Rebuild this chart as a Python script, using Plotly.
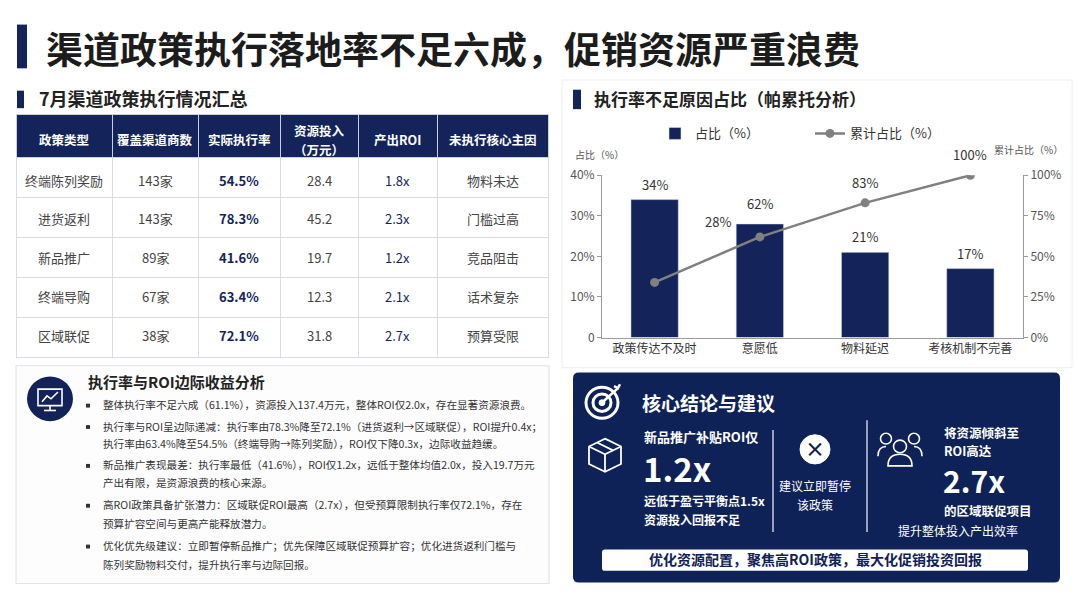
import plotly.graph_objects as go

W, H = 1080, 608
FONT = "Noto Sans CJK SC"
NAVY = "#14245a"

# ---- table data ----
policy_types = ["终端陈列奖励", "进货返利", "新品推广", "终端导购", "区域联促"]
dealers = [143, 143, 89, 67, 38]
exec_rate = [54.5, 78.3, 41.6, 63.4, 72.1]
invest = [28.4, 45.2, 19.7, 12.3, 31.8]
roi = [1.8, 2.3, 1.2, 2.1, 2.7]
causes = ["物料未达", "门槛过高", "竞品阻击", "话术复杂", "预算受限"]
table_head = ["政策类型", "覆盖渠道商数", "实际执行率", "资源投入<br>（万元）", "产出ROI", "未执行核心主因"]
col_w = [96, 86, 82, 78, 79, 111]

# ---- pareto data ----
reasons = ["政策传达不及时", "意愿低", "物料延迟", "考核机制不完善"]
share = [34, 28, 21, 17]
cumulative = [34, 62, 83, 100]
left_ticks = [0, 10, 20, 30, 40]
left_ticktext = ["0", "10%", "20%", "30%", "40%"]
right_ticks = [0, 25, 50, 75, 100]
right_ticktext = ["0%", "25%", "50%", "75%", "100%"]

bullets = [
    ["整体执行率不足六成（61.1%），资源投入137.4万元，整体ROI仅2.0x，存在显著资源浪费。"],
    ["执行率与ROI呈边际递减：执行率由78.3%降至72.1%（进货返利→区域联促），ROI提升0.4x；",
     "执行率由63.4%降至54.5%（终端导购→陈列奖励），ROI仅下降0.3x，边际收益趋缓。"],
    ["新品推广表现最差：执行率最低（41.6%），ROI仅1.2x，远低于整体均值2.0x，投入19.7万元",
     "产出有限，是资源浪费的核心来源。"],
    ["高ROI政策具备扩张潜力：区域联促ROI最高（2.7x），但受预算限制执行率仅72.1%，存在",
     "预算扩容空间与更高产能释放潜力。"],
    ["优化优先级建议：立即暂停新品推广；优先保障区域联促预算扩容；优化进货返利门槛与",
     "陈列奖励物料交付，提升执行率与边际回报。"],
]


def X(px):
    return px / W


def Y(py):
    return 1 - py / H


def rrect(x0, y0, x1, y1, r):
    # rounded rectangle path in paper coords (input in pixels)
    p = [
        f"M{X(x0 + r)},{Y(y0)}", f"L{X(x1 - r)},{Y(y0)}", f"Q{X(x1)},{Y(y0)} {X(x1)},{Y(y0 + r)}",
        f"L{X(x1)},{Y(y1 - r)}", f"Q{X(x1)},{Y(y1)} {X(x1 - r)},{Y(y1)}",
        f"L{X(x0 + r)},{Y(y1)}", f"Q{X(x0)},{Y(y1)} {X(x0)},{Y(y1 - r)}",
        f"L{X(x0)},{Y(y0 + r)}", f"Q{X(x0)},{Y(y0)} {X(x0 + r)},{Y(y0)}", "Z",
    ]
    return " ".join(p)


def poly(pts, close=False):
    s = "M" + " L".join(f"{X(a)},{Y(b)}" for a, b in pts)
    return s + (" Z" if close else "")


shapes = []
annos = []


def rect(x0, y0, x1, y1, fill, line=None, lw=0):
    shapes.append(dict(type="rect", xref="paper", yref="paper", x0=X(x0), x1=X(x1), y0=Y(y1), y1=Y(y0),
                       fillcolor=fill, line=dict(color=line or fill, width=lw), layer="below"))


def circle(cx, cy, r, fill=None, line=None, lw=0, layer="above"):
    shapes.append(dict(type="circle", xref="paper", yref="paper", x0=X(cx - r), x1=X(cx + r),
                       y0=Y(cy + r), y1=Y(cy - r), fillcolor=fill or "rgba(0,0,0,0)",
                       line=dict(color=line or "rgba(0,0,0,0)", width=lw), layer=layer))


def path(d, color="white", lw=2, fill=None, layer="above"):
    shapes.append(dict(type="path", xref="paper", yref="paper", path=d,
                       line=dict(color=color, width=lw), fillcolor=fill or "rgba(0,0,0,0)", layer=layer))


def text(x, y, s, size=12, color="#333", bold=False, anchor="left"):
    annos.append(dict(x=X(x), y=Y(y), xref="paper", yref="paper", text=f"<b>{s}</b>" if bold else s,
                      showarrow=False, xanchor=anchor, yanchor="middle",
                      font=dict(family=FONT, size=size, color=color)))


fig = go.Figure()

# ---- header ----
rect(17, 15, 27, 60, NAVY)
text(44, 39, "渠道政策执行落地率不足六成，促销资源严重浪费", 37, "#1c1c1c", True)
rect(17, 83, 24, 101, NAVY)
text(37, 91, "7月渠道政策执行情况汇总", 18, "#222", True)
rect(573, 82, 581, 102, NAVY)
text(592, 91, "执行率不足原因占比（帕累托分析）", 17, "#222", True)

# ---- table (grid drawn by go.Table, labels centred on top of it) ----
tx0, tx1 = 16, 548
head_top, head_h, row_h = 115, 43, 40
body = [policy_types, [f"{d}家" for d in dealers], [f"{r}%" for r in exec_rate],
        invest, [f"{r}x" for r in roi], causes]
body_color = ["#444", "#444", NAVY, "#444", NAVY, "#444"]
body_bold = [False, False, True, False, False, False]

fig.add_trace(go.Table(
    domain=dict(x=[X(tx0), X(tx1)], y=[Y(362), Y(head_top - 7)]),
    columnwidth=col_w,
    header=dict(values=[""] * len(table_head), fill_color=NAVY, height=head_h,
                line=dict(color="#c9cfdb", width=1)),
    cells=dict(values=[[""] * len(policy_types)] * len(col_w), fill_color="white", height=row_h,
               line=dict(color="#d9dce3", width=1)),
))
scale = (tx1 - tx0) / sum(col_w)
left = tx0
for j, (h, w) in enumerate(zip(table_head, col_w)):
    cx = left + w * scale / 2
    left += w * scale
    parts = h.split("<br>")
    for k, part in enumerate(parts):
        cy = head_top + head_h / 2 - 3 + (k - (len(parts) - 1) / 2) * 19
        text(cx, cy, part, 12.5, "white", True, anchor="center")
    for i, v in enumerate(body[j]):
        cy = head_top + head_h + row_h * i + row_h / 2 - 3
        text(cx, cy, str(v), 13, body_color[j], body_bold[j], anchor="center")

# ---- pareto chart ----
fig.add_trace(go.Bar(x=reasons, y=share, name="占比（%）", marker_color=NAVY, width=0.45, yaxis="y"))
fig.add_trace(go.Scatter(x=reasons, y=cumulative, name="累计占比（%）", yaxis="y2", mode="lines+markers",
                         line=dict(color="#808080", width=2.5), marker=dict(size=9, color="#808080")))

for i, v in enumerate(share):
    annos.append(dict(x=reasons[i], y=v, xref="x", yref="y", text=f"{v}%", showarrow=False,
                      yanchor="bottom", yshift=-9 if i == 1 else 4, xshift=-42 if i == 1 else 0,
                      font=dict(family=FONT, size=13, color="#333")))
for i, v in enumerate(cumulative):
    if i == 0:
        continue
    annos.append(dict(x=reasons[i], y=v, xref="x", yref="y2", text=f"{v}%", showarrow=False,
                      yanchor="bottom", yshift=22 if i == 1 else 9,
                      font=dict(family=FONT, size=13, color="#333")))

text(573, 149, "占比（%）", 10, "#555")
text(1065, 143, "累计占比（%）", 10, "#555", anchor="right")
shapes.append(dict(type="rect", xref="paper", yref="paper", x0=X(562), x1=X(1072), y0=Y(368), y1=Y(72),
                   line=dict(color="#eceef2", width=1), fillcolor="rgba(0,0,0,0)", layer="below"))

# ---- bottom-left analysis panel ----
shapes.append(dict(type="rect", xref="paper", yref="paper", x0=X(16), x1=X(549), y0=Y(590), y1=Y(366),
                   line=dict(color="#e1e4ea", width=1.2), fillcolor="#fdfdfe", layer="below"))
circle(50, 400, 23, fill="#13235a")
path(poly([(38, 390), (62, 390), (62, 407), (38, 407)], True), lw=1.6)
path(poly([(50, 407), (50, 412)]), lw=1.6)
path(poly([(44, 412), (56, 412)]), lw=1.6)
path(poly([(42, 403), (47, 397), (51, 400), (58, 393)]), lw=1.6)
text(86, 382, "执行率与ROI边际收益分析", 15, "#222", True)
ys = [[407], [429, 447], [469, 487], [510, 529], [552, 571]]
for lines, yy in zip(bullets, ys):
    rect(86, yy[0] - 2, 90, yy[0] + 2, "#333")
    for s, y in zip(lines, yy):
        text(101, y - 1, s, 10.6, "#333")

# ---- bottom-right conclusion panel ----
path(rrect(573, 373, 1060, 589, 6), color="#0f2257", lw=0, fill="#0f2257", layer="below")
# target icon
circle(602, 404, 16, line="white", lw=3)
circle(602, 404, 9, line="white", lw=3)
circle(602, 404, 3, fill="white", line="white", lw=1)
path(poly([(603, 403), (618, 389)]), lw=2.5)
path(poly([(614, 387), (618, 389), (620, 385)]), lw=2.5)
text(640, 404, "核心结论与建议", 19, "white", True)
# box icon
path(poly([(605, 441), (621, 449), (621, 467), (605, 475), (589, 467), (589, 449)], True), lw=1.8)
path(poly([(589, 449), (605, 457), (621, 449)]), lw=1.8)
path(poly([(605, 457), (605, 475)]), lw=1.8)
path(poly([(597, 445), (613, 453)]), lw=1.8)
text(642, 439, "新品推广补贴ROI仅", 13, "white", True)
text(641, 471, f"{roi[2]}x", 33, "white", True)
text(642, 505, "远低于盈亏平衡点1.5x", 12, "white", True)
text(642, 524, "资源投入回报不足", 12, "white", True)
# dividers
path(poly([(773, 432), (773, 537)]), color="#c8cde0", lw=1.5)
path(poly([(867, 422), (867, 537)]), color="#c8cde0", lw=1.5)
# pause icon
circle(815, 452, 15, fill="white", line="white", lw=1)
text(815, 451, "×", 20, "#0f2257", True, anchor="center")
text(815, 489, "建议立即暂停", 12, "white", anchor="center")
text(815, 509, "该政策", 12, "white", anchor="center")
# people icon
circle(886, 441, 5.5, line="white", lw=1.6)
circle(914, 441, 5.5, line="white", lw=1.6)
path(f"M{X(878)},{Y(459)} Q{X(878)},{Y(449)} {X(886)},{Y(449)}", lw=1.6)
path(f"M{X(922)},{Y(459)} Q{X(922)},{Y(449)} {X(914)},{Y(449)}", lw=1.6)
circle(900, 449, 6.5, fill="#0f2257", line="white", lw=1.6)
path(f"M{X(888)},{Y(469)} Q{X(888)},{Y(457)} {X(900)},{Y(457)} Q{X(912)},{Y(457)} {X(912)},{Y(469)} Z",
     lw=1.6, fill="#0f2257")
text(942, 435, "将资源倾斜至", 12.5, "white", True)
text(942, 453, "ROI高达", 12.5, "white", True)
text(941, 484, f"{roi[4]}x", 30, "white", True)
text(942, 515, "的区域联促项目", 12.5, "white", True)
text(958, 535, "提升整体投入产出效率", 12, "white", anchor="center")
path(rrect(602, 555, 1028, 577, 3), color="white", lw=0, fill="white")
text(815, 565, "优化资源配置，聚焦高ROI政策，最大化促销投资回报", 14, "#0f2257", True, anchor="center")

fig.update_layout(
    width=W, height=H, margin=dict(l=0, r=0, t=0, b=0),
    paper_bgcolor="white", plot_bgcolor="white",
    font=dict(family=FONT, size=12, color="#444"),
    shapes=shapes, annotations=annos, bargap=0.5,
    legend=dict(orientation="h", x=X(655), y=Y(127), xanchor="left", yanchor="middle",
                font=dict(family=FONT, size=13, color="#333"), bgcolor="rgba(0,0,0,0)",
                entrywidth=110),
    xaxis=dict(domain=[X(602), X(1023)], anchor="y", showline=True, linecolor="#9a9a9a",
               ticks="", tickfont=dict(size=12, color="#333"), showgrid=False, fixedrange=True),
    yaxis=dict(domain=[Y(337), Y(170)], range=[0, 40], tickvals=left_ticks, ticktext=left_ticktext,
               showline=True, linecolor="#9a9a9a", ticks="outside", ticklen=4, tickcolor="#9a9a9a",
               showgrid=False, zeroline=False, tickfont=dict(size=12, color="#555")),
    yaxis2=dict(overlaying="y", side="right", anchor="x", range=[0, 100], tickvals=right_ticks,
                ticktext=right_ticktext, showline=True, linecolor="#9a9a9a", ticks="outside",
                ticklen=4, tickcolor="#9a9a9a", showgrid=False, zeroline=False,
                tickfont=dict(size=12, color="#555")),
)

fig.write_html("out.html", config={"displayModeBar": False},
               post_script="document.body.style.margin='0';document.body.style.overflow='hidden';")
